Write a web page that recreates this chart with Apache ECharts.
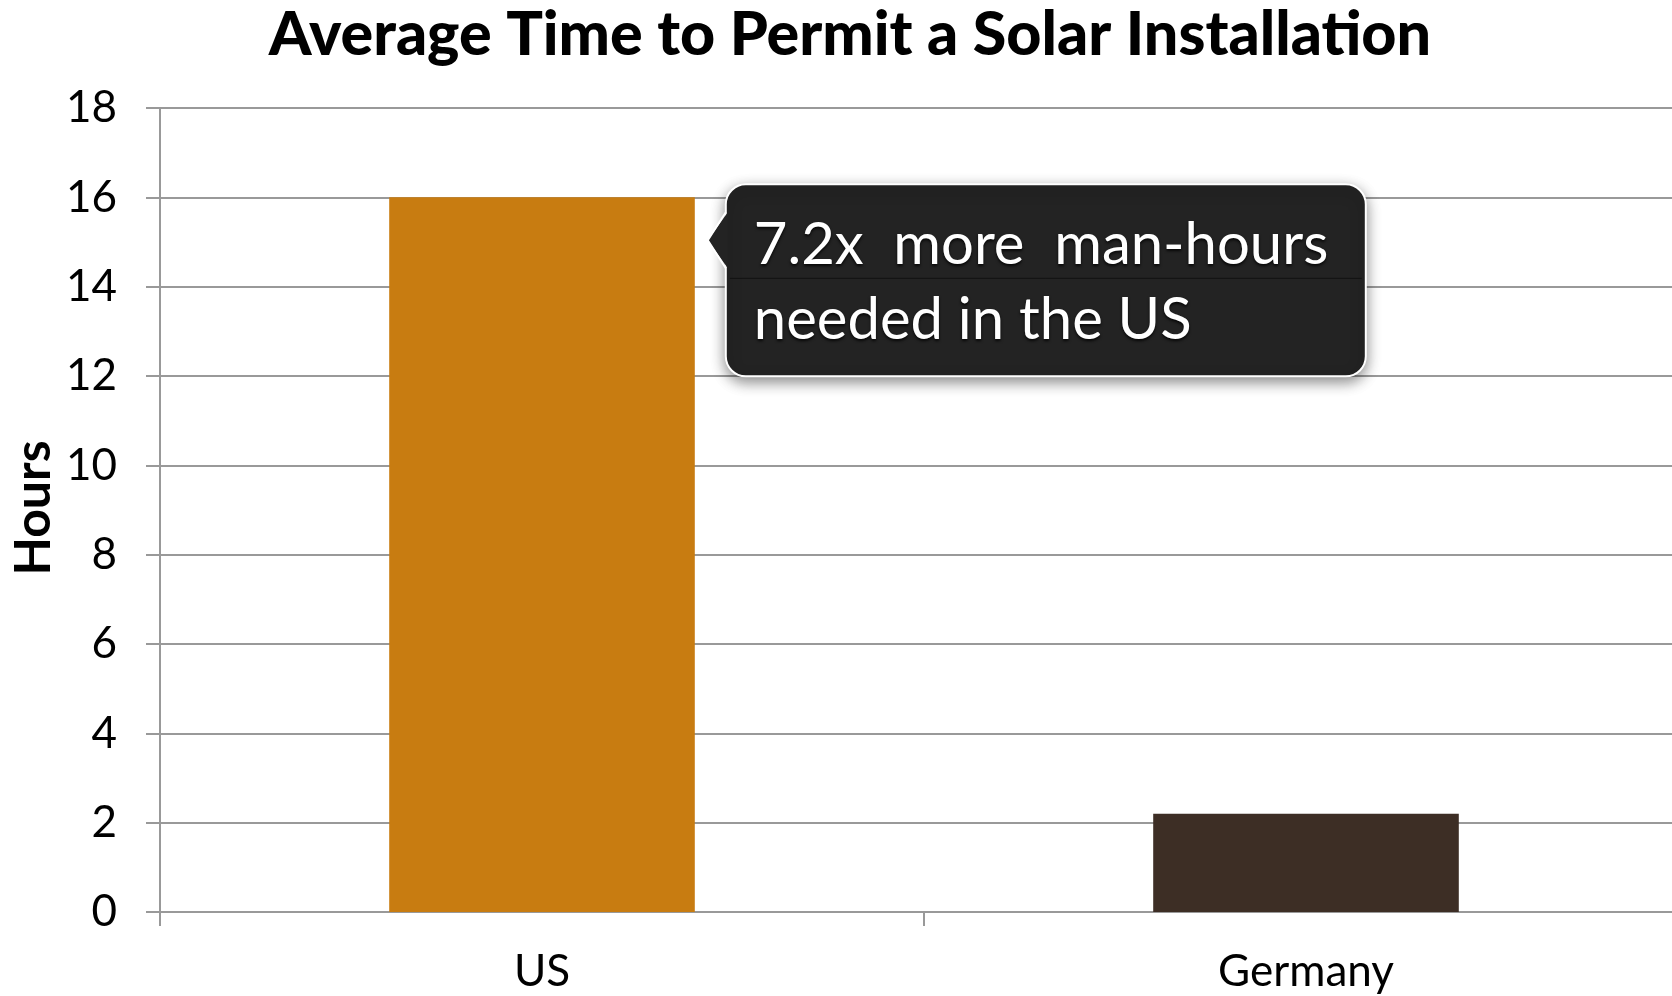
<!DOCTYPE html>
<html>
<head>
<meta charset="utf-8">
<script src="https://cdn.jsdelivr.net/npm/echarts@6/dist/echarts.min.js"></script>
<style>
html,body{margin:0;padding:0;background:#fff;}
#chart{width:1672px;height:996px;}
</style>
</head>
<body>
<div id="chart"></div>
<script>
const titleText = 'Average Time to Permit a Solar Installation';
const categories = ['US', 'Germany'];
const hours = [16, 2.2];
const barColors = ['#C87C11', '#3D2E25'];
const yTicks = { min: 0, max: 18, interval: 2 };
const axisName = 'Hours';
const noteLines = ['7.2x  more  man-hours', 'needed in the US'];

const FONT = 'Lato, "Open Sans", sans-serif';
const chart = echarts.init(document.getElementById('chart'), null, { renderer: 'canvas' });

const option = {
  animation: false,
  backgroundColor: '#ffffff',
  title: {
    text: titleText,
    left: 845, top: 30, textAlign: 'center', textVerticalAlign: 'middle',
    textStyle: { fontFamily: FONT, fontWeight: 900, fontSize: 61, color: '#000' }
  },
  grid: { left: 160, right: -16, top: 108, bottom: 84, containLabel: false, outerBoundsMode: 'none' },
  xAxis: {
    type: 'category',
    data: categories,
    axisLine: { lineStyle: { color: '#999', width: 2 } },
    axisTick: { show: true, length: 14, lineStyle: { color: '#999', width: 2 } },
    axisLabel: { margin: 38, fontFamily: FONT, fontSize: 44, color: '#000' }
  },
  yAxis: {
    type: 'value',
    min: yTicks.min, max: yTicks.max, interval: yTicks.interval,
    axisLine: { show: true, lineStyle: { color: '#999', width: 2 } },
    axisTick: { show: true, length: 14, lineStyle: { color: '#999', width: 2 } },
    axisLabel: { margin: 43, fontFamily: FONT, fontSize: 44, color: '#000' },
    splitLine: { show: true, lineStyle: { color: '#999', width: 2 } }
  },
  series: [{
    type: 'bar',
    barWidth: '40%',
    data: hours.map((v, i) => ({ value: v, itemStyle: { color: barColors[i] } })),
    z: 3
  }]
};
chart.setOption(option);

// y-axis title, centred on the value axis
const gridRect = chart.getModel().getComponent('grid', 0).coordinateSystem.getRect();
const yMid = gridRect.y + gridRect.height / 2;

// annotation anchored to the US bar top-right
const topPt = chart.convertToPixel({ seriesIndex: 0 }, [0, hours[0]]);
const bandW = chart.getModel().getComponent('xAxis', 0).axis.getBandWidth();
const barRight = topPt[0] + bandW * 0.4 / 2;
const bx = barRight + 31, by = topPt[1] - 13, bw = 640, bh = 192;
const tipX = barRight + 13, tipY = topPt[1] + 43;
chart.setOption({
  graphic: [
    { type: 'text', x: gridRect.x - 126, y: yMid - 2, rotation: Math.PI / 2,
      style: { text: axisName, fill: '#000', fontFamily: FONT, fontWeight: 'bold', fontSize: 50,
        align: 'center', verticalAlign: 'middle' } },
    {
    type: 'group', z: 100,
    children: [
      { type: 'rect', shape: { x: bx, y: by, width: bw, height: bh, r: 20 },
        style: { fill: '#232323', stroke: '#ffffff', lineWidth: 2,
          shadowBlur: 14, shadowColor: 'rgba(0,0,0,0.45)', shadowOffsetY: 5 } },
      { type: 'polygon', shape: { points: [[bx + 2, tipY - 28], [tipX, tipY], [bx + 2, tipY + 28]] },
        style: { fill: '#232323' } },
      { type: 'polyline', shape: { points: [[bx, tipY - 28], [tipX, tipY], [bx, tipY + 28]] },
        style: { stroke: '#ffffff', lineWidth: 2, fill: null } },
      { type: 'line', shape: { x1: bx + 4, y1: by + bh / 2 - 2, x2: bx + bw - 4, y2: by + bh / 2 - 2 },
        style: { stroke: '#111', lineWidth: 1 } },
      { type: 'text', x: bx + 28, y: tipY + 5,
        style: { text: noteLines[0], fill: '#fff', fontFamily: FONT, fontSize: 58,
          verticalAlign: 'middle', textShadowColor: 'rgba(0,0,0,0.8)', textShadowBlur: 3, textShadowOffsetY: 2 } },
      { type: 'text', x: bx + 28, y: tipY + 80,
        style: { text: noteLines[1], fill: '#fff', fontFamily: FONT, fontSize: 58,
          verticalAlign: 'middle', textShadowColor: 'rgba(0,0,0,0.8)', textShadowBlur: 3, textShadowOffsetY: 2 } }
    ]
  }]
});
</script>
</body>
</html>
